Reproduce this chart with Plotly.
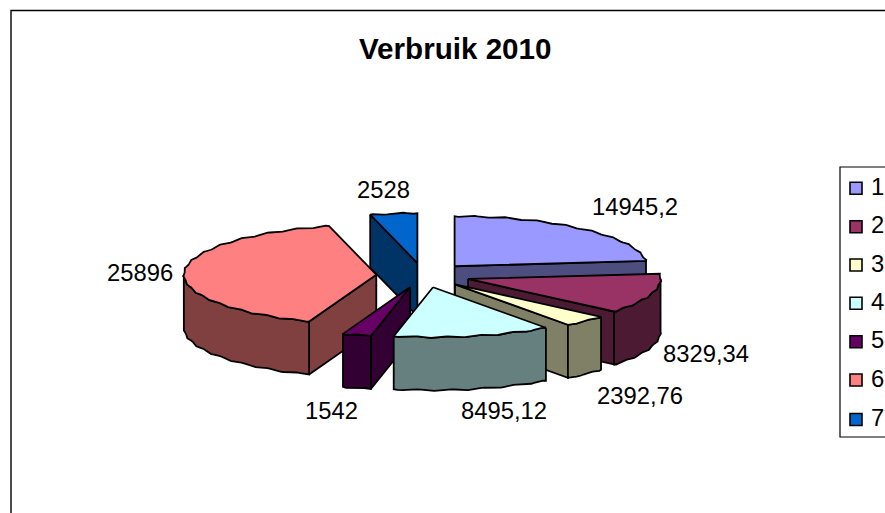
import math
import plotly.graph_objects as go

title = "Verbruik 2010"
categories = ["1", "2", "3", "4", "5", "6", "7"]
values = [14945.2, 8329.34, 2392.76, 8495.12, 1542, 25896, 2528]
top_colors = ["#9999FF", "#993366", "#FFFFCC", "#CCFFFF", "#660066", "#FF8080", "#0066CC"]
side_colors = ["#4D4D80", "#4D1A33", "#808066", "#668080", "#330033", "#804040", "#003366"]

# pie projection (pixels)
CX, CY = 423.2, 275.3
RX, RY = 192.5, 50.0
DEPTH = 53.0
EXPLODE = 0.244
ROUGHNESS = 0.7
draw_order = [6, 5, 0, 1, 2, 4, 3]
label_centers = [(634.5, 206), (705.5, 353), (640, 395), (504, 410), (331, 410), (140, 272), (383.5, 189)]
legend_y = [188.3, 226.7, 265, 303.3, 341.7, 380, 419.5]

total = sum(values)
spans = []
acc = 0.0
for v in values:
    spans.append((acc / total * 360, (acc + v) / total * 360))
    acc += v


def pt(apex, deg, drop=0.0, rough=False):
    a = math.radians(deg)
    x = apex[0] + RX * math.sin(a)
    y = apex[1] - RY * math.cos(a) + drop
    if rough:
        k = math.radians(deg * 36)
        x += ROUGHNESS * math.sin(k)
        y += ROUGHNESS * math.cos(k)
    return x, y


def arc(apex, a0, a1, drop=0.0):
    n = max(2, int(abs(a1 - a0)) + 1)
    return [pt(apex, a0 + (a1 - a0) * i / (n - 1), drop, 0 < i < n - 1) for i in range(n)]


fig = go.Figure()


def poly(points, color):
    xs = [p[0] for p in points] + [points[0][0]]
    ys = [p[1] for p in points] + [points[0][1]]
    fig.add_trace(go.Scatter(x=xs, y=ys, mode="lines", fill="toself", fillcolor=color,
                             line=dict(color="black", width=1.8), hoverinfo="skip",
                             showlegend=False))


for i in draw_order:
    a0, a1 = spans[i]
    mid = math.radians((a0 + a1) / 2)
    apex = (CX + EXPLODE * RX * math.sin(mid), CY - EXPLODE * RY * math.cos(mid))
    bottom = (apex[0], apex[1] + DEPTH)
    side = side_colors[i]
    if 180 < a0 < 360:
        poly([apex, pt(apex, a0), pt(apex, a0, DEPTH), bottom], side)
    if 0 < a1 < 180:
        poly([apex, pt(apex, a1), pt(apex, a1, DEPTH), bottom], side)
    w0, w1 = max(a0, 90), min(a1, 270)
    if w0 < w1:
        poly(arc(apex, w0, w1) + arc(apex, w1, w0, DEPTH), side)
    poly([apex] + arc(apex, a0, a1), top_colors[i])

# legend keys
fig.add_trace(go.Scatter(x=[856] * len(categories), y=legend_y, mode="markers",
                         marker=dict(symbol="square", size=12, color=top_colors,
                                     line=dict(color="black", width=1.6)),
                         hoverinfo="skip", showlegend=False))

FONT = "Liberation Sans, Arial, sans-serif"
ann = [dict(x=455.5, y=48, text="<b>%s</b>" % title, showarrow=False, xanchor="center", yanchor="middle",
            font=dict(family=FONT, size=29.6, color="black"))]
for v, (lx, ly) in zip(values, label_centers):
    ann.append(dict(x=lx, y=ly, text=str(v).replace(".", ","), showarrow=False,
                    xanchor="center", yanchor="middle",
                    font=dict(family=FONT, size=23.8, color="black")))
for c, ly in zip(categories, legend_y):
    ann.append(dict(x=869, y=ly - 2, text=c, showarrow=False, xanchor="left", yanchor="middle",
                    font=dict(family=FONT, size=23.8, color="black")))

shapes = [
    dict(type="rect", x0=11, y0=10.5, x1=905, y1=530, line=dict(color="black", width=1.4), layer="below"),
    dict(type="rect", x0=840, y0=167, x1=905, y1=437, line=dict(color="black", width=1.2), layer="below"),
]

fig.update_layout(
    width=885, height=513, autosize=False,
    margin=dict(l=0, r=0, t=0, b=0),
    paper_bgcolor="white", plot_bgcolor="white",
    xaxis=dict(range=[0, 885], visible=False, fixedrange=True),
    yaxis=dict(range=[513, 0], visible=False, fixedrange=True),
    annotations=ann, shapes=shapes, showlegend=False,
)
fig.write_html("out.html", post_script="document.body.style.margin='0';",
               config={"displayModeBar": False})
